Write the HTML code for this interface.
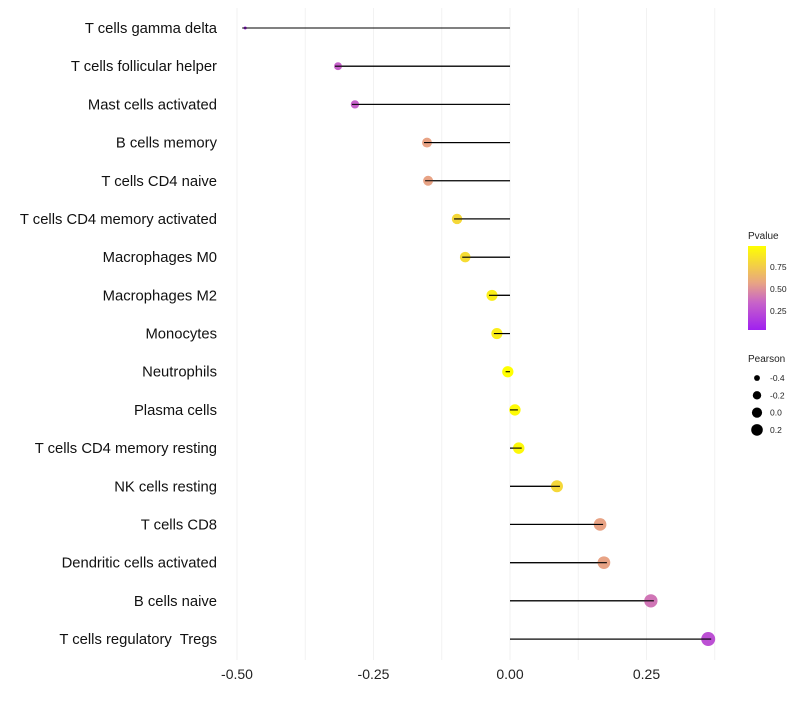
<!DOCTYPE html>
<html><head><meta charset="utf-8"><style>
body{margin:0;background:#fff;font-family:"Liberation Sans",sans-serif;}
text{white-space:pre;}
</style></head><body>
<svg id="c" width="800" height="700" xmlns="http://www.w3.org/2000/svg"></svg>
<script>
const categories=["T cells gamma delta","T cells follicular helper","Mast cells activated","B cells memory","T cells CD4 naive","T cells CD4 memory activated","Macrophages M0","Macrophages M2","Monocytes","Neutrophils","Plasma cells","T cells CD4 memory resting","NK cells resting","T cells CD8","Dendritic cells activated","B cells naive","T cells regulatory  Tregs"];
const pearson=[-0.485,-0.315,-0.284,-0.152,-0.150,-0.097,-0.082,-0.033,-0.024,-0.004,0.009,0.016,0.086,0.165,0.172,0.258,0.363];
const pvalue=[0.05,0.33,0.33,0.56,0.56,0.8,0.82,0.9,0.9,0.98,0.96,0.95,0.8,0.56,0.56,0.4,0.25];
const xTicks=[-0.5,-0.25,0,0.25];
const xTickLabels=["-0.50","-0.25","0.00","0.25"];
const pTicks=[0.25,0.5,0.75];
const sizeTicks=[-0.4,-0.2,0.0,0.2];
const svg=document.getElementById('c');
const NS="http://www.w3.org/2000/svg";
const x=v=>510+v*546;
const y=i=>28+i*38.19;
const pMin=Math.min(...pearson),pMax=Math.max(...pearson);
const r=v=>{const t=Math.max(0,Math.min(1,(v-pMin)/(pMax-pMin)));return 1.5+5.5*Math.sqrt(t);};
const stops=[[0,[160,32,240]],[0.33,[200,100,200]],[0.56,[232,164,132]],[1,[255,255,0]]];
function col(p){const t=Math.max(0,Math.min(1,(p-0.03)/0.95));
 for(let k=0;k<stops.length-1;k++){const [o1,a]=stops[k],[o2,b]=stops[k+1];
  if(t<=o2){const u=(t-o1)/(o2-o1);return `rgb(${a.map((c,j)=>Math.round(c+(b[j]-c)*u)).join(',')})`;}}
 return 'rgb(255,255,0)';}
function el(t,a,txt){const e=document.createElementNS(NS,t);for(const k in a)e.setAttribute(k,a[k]);if(txt!=null)e.textContent=txt;svg.appendChild(e);return e;}
for(let v=-0.5;v<=0.38;v+=0.125){const g=el('line',{x1:x(v),x2:x(v),y1:8,y2:660,stroke:'#f2f2f2','stroke-width':1});
}
xTicks.forEach((v,i)=>{const t=el('text',{x:x(v),y:679,'text-anchor':'middle','font-size':14,fill:'#222'},xTickLabels[i]);
});
categories.forEach((c,i)=>{
 const t=el('text',{x:217,y:y(i)+5,'text-anchor':'end','font-size':14.8,fill:'#111'},c);
 
 const l=el('line',{x1:x(0),x2:x(pearson[i]),y1:y(i),y2:y(i),stroke:'#000','stroke-width':1.1});
 
 const p=el('circle',{cx:x(pearson[i]),cy:y(i),r:r(pearson[i]),fill:col(pvalue[i])});
 
 const l2=el('line',{x1:x(0),x2:x(pearson[i])+(pearson[i]<0?-1:1)*Math.min(3,Math.abs(x(pearson[i])-x(0))),y1:y(i),y2:y(i),stroke:'#000','stroke-width':1.1});
 
});
const lt=el('text',{x:748,y:239,'font-size':10,fill:'#222'},'Pvalue');

const defs=el('defs',{});const gr=document.createElementNS(NS,'linearGradient');gr.setAttribute('id','g');gr.setAttribute('x1',0);gr.setAttribute('y1',1);gr.setAttribute('x2',0);gr.setAttribute('y2',0);
stops.forEach(([o,c])=>{const s=document.createElementNS(NS,'stop');s.setAttribute('offset',o);s.setAttribute('stop-color',`rgb(${c.join(',')})`);gr.appendChild(s);});defs.appendChild(gr);
const cb=el('rect',{x:748,y:246,width:18,height:84,fill:'url(#g)'});

const py=p=>330-(p-0.03)/0.95*84;
pTicks.forEach(p=>{const t=el('text',{x:770,y:py(p)+3.5,'font-size':8.5,fill:'#222'},p.toFixed(2));
});
const st=el('text',{x:748,y:362,'font-size':10,fill:'#222'},'Pearson');

sizeTicks.forEach((v,i)=>{const c=el('circle',{cx:757,cy:378+i*17.3,r:r(v)*0.9,fill:'#000'});

const t=el('text',{x:770,y:381+i*17.3,'font-size':8.5,fill:'#222'},v.toFixed(1));
});
</script>
</body></html>
